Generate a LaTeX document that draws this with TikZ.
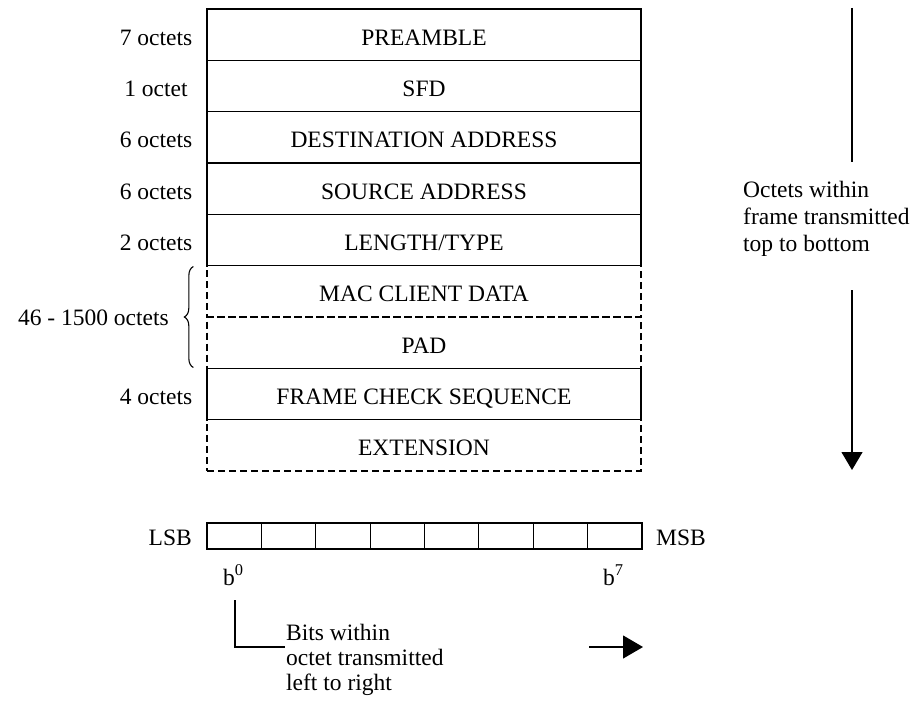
\documentclass[tikz,border=0pt]{standalone}
\usepackage{fontspec}
\setmainfont{Liberation Serif}
\usetikzlibrary{arrows.meta,decorations.pathreplacing,calc}

\begin{document}
\begin{tikzpicture}[x=1pt,y=-1pt,
  every node/.style={font=\fontsize{23.5}{27}\selectfont, inner sep=0pt},
  fieldbox/.style={draw, line width=1.3pt, minimum width=434pt,
    minimum height=51.33pt, text height=21pt, text depth=0pt},
  solidfield/.style={fieldbox},
  dashedfield/.style={fieldbox, dash pattern=on 7pt off 4pt},
  sizelabel/.style={text height=21pt, text depth=0pt},
  bitcell/.style={draw, line width=1.2pt, minimum width=54.375pt, minimum height=26pt},
  flow/.style={line width=1.2pt},
  bigtip/.style={-{Triangle[length=#1]}},
]
\useasboundingbox (0,0) rectangle (913,701);

% optional fields (dashed outline) first, so shared edges end up solid
\node[dashedfield] (f5) at (424,291.33) {MAC CLIENT DATA};
\node[dashedfield] (f6) at (424,342.67) {PAD};
\node[dashedfield] (f8) at (424,445.33) {EXTENSION};

% mandatory fields
\node[solidfield] (f0) at (424,34.67)  {PREAMBLE};
\node[solidfield] (f1) at (424,86.00)  {SFD};
\node[solidfield] (f2) at (424,137.33) {DESTINATION ADDRESS};
\node[solidfield] (f3) at (424,188.67) {SOURCE ADDRESS};
\node[solidfield] (f4) at (424,240.00) {LENGTH/TYPE};
\node[solidfield] (f7) at (424,394.00) {FRAME CHECK SEQUENCE};

% field sizes
\node[sizelabel] (s0) at (156,34.67)  {7 octets};
\node[sizelabel] (s1) at (156,86.00)  {1 octet};
\node[sizelabel] (s2) at (156,137.33) {6 octets};
\node[sizelabel] (s3) at (156,188.67) {6 octets};
\node[sizelabel] (s4) at (156,240.00) {2 octets};
\node[sizelabel] (s7) at (156,394.00) {4 octets};

% data + pad size
\draw[line width=1.1pt, decorate, decoration={brace, amplitude=9pt}]
  (f6.south west) ++(-13,-1.5) coordinate (bracelow) -- ($(f5.north west)+(-13,1.5)$) coordinate (bracehigh);
\node[anchor=base east] (s56) at (169,325) {46 - 1500 octets};

% octet transmission order
\coordinate (dtop) at (852,8);
\coordinate (dmid) at (852,162);
\coordinate (dres) at (852,290);
\coordinate (dend) at (852,470);
\draw[flow] (dtop) -- (dmid);
\draw[flow, -{Triangle[length=18pt,width=21pt]}] (dres) -- (dend);
\node[anchor=north west, align=left] (octnote) at (743,181)
  {Octets within\\frame transmitted\\top to bottom};

% bit cells of one octet
\foreach \i in {0,...,7}
  \node[bitcell] (bit\i) at ({207+54.375*(\i+0.5)},536) {};
\node[anchor=base east] (lsb) at (192,545) {LSB};
\node[anchor=base west] (msb) at (656,545) {MSB};
\node[anchor=base west] (b0) at (223,585) {b\textsuperscript{0}};
\node[anchor=base west] (b7) at (603,585) {b\textsuperscript{7}};

% bit transmission order
\node[anchor=north west, align=left, font=\fontsize{23.5}{25}\selectfont] (bitnote) at (286,624)
  {Bits within\\octet transmitted\\left to right};
\coordinate (tick) at (235,600);
\coordinate (corner) at (285,647);
\draw[flow] (tick) |- (corner);
\coordinate (rstart) at (589,647);
\coordinate (rend) at (643,647);
\draw[flow, -{Triangle[length=20pt,width=23pt]}] (rstart) -- (rend);
\end{tikzpicture}
\end{document}
